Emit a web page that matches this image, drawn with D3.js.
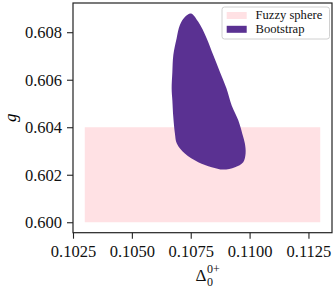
<!DOCTYPE html>
<html>
<head>
<meta charset="utf-8">
<script src="https://cdn.jsdelivr.net/npm/d3@7"></script>
<style>
  body { margin: 0; background: #fff; }
  svg { display: block; }
  text { font-family: "Liberation Serif", "DejaVu Serif", serif; }
</style>
</head>
<body>
<script>
// Fuzzy sphere estimate (rectangle)
var fuzzyX = [0.103, 0.113];
var fuzzyY = [0.600, 0.604];

// Bootstrap island outline (Delta, g)
var bootDelta = [0.10751, 0.10782, 0.10818, 0.10846, 0.10874, 0.10902, 0.10924, 0.10952,
                 0.10969, 0.10980, 0.10983, 0.10973, 0.10938, 0.10888, 0.10839, 0.10782,
                 0.10725, 0.10691, 0.10683, 0.10676, 0.10672, 0.10669, 0.10672, 0.10676,
                 0.10690, 0.10704, 0.10725];
var bootG = [0.60879, 0.60844, 0.60774, 0.60703, 0.60633, 0.60563, 0.60492, 0.60429,
             0.60373, 0.60331, 0.60289, 0.60253, 0.60232, 0.60222, 0.60232, 0.60253,
             0.60289, 0.60331, 0.60373, 0.60443, 0.60513, 0.60563, 0.60633, 0.60703,
             0.60774, 0.60830, 0.60864];

var xTicks = [0.1025, 0.1050, 0.1075, 0.1100, 0.1125];
var yTicks = [0.600, 0.602, 0.604, 0.606, 0.608];
var legendLabels = ["Fuzzy sphere", "Bootstrap"];
var colours = ["#ffe1e4", "#5a3192"];

var width = 336, height = 288;
var margin = { top: 3, right: 4, bottom: 55.3, left: 73 };

var svg = d3.select("body").append("svg")
    .attr("width", width)
    .attr("height", height);

var x = d3.scaleLinear().domain([0.1025, 0.1135]).range([margin.left, width - margin.right]);
var y = d3.scaleLinear().domain([0.59956, 0.60923]).range([height - margin.bottom, margin.top]);

// Fuzzy sphere box
svg.append("rect")
    .attr("x", x(fuzzyX[0]))
    .attr("y", y(fuzzyY[1]))
    .attr("width", x(fuzzyX[1]) - x(fuzzyX[0]))
    .attr("height", y(fuzzyY[0]) - y(fuzzyY[1]))
    .attr("fill", colours[0]);

// Bootstrap island
var pts = bootDelta.map(function(d, i) { return [d, bootG[i]]; });
var line = d3.line()
    .x(function(d) { return x(d[0]); })
    .y(function(d) { return y(d[1]); })
    .curve(d3.curveCatmullRomClosed.alpha(0.5));

svg.append("path")
    .attr("d", line(pts))
    .attr("fill", colours[1]);

// Axes
var xAxis = svg.append("g")
    .attr("transform", "translate(0," + (height - margin.bottom) + ")")
    .call(d3.axisBottom(x).tickValues(xTicks).tickFormat(d3.format(".4f"))
        .tickSize(6).tickPadding(7).tickSizeOuter(0));

var yAxis = svg.append("g")
    .attr("transform", "translate(" + margin.left + ",0)")
    .call(d3.axisLeft(y).tickValues(yTicks).tickFormat(d3.format(".3f"))
        .tickSize(6).tickPadding(5).tickSizeOuter(0));

[xAxis, yAxis].forEach(function(a) {
    a.select(".domain").remove();
    a.selectAll("line").attr("stroke", "#222").attr("stroke-width", 1.1);
    a.selectAll("text")
        .attr("fill", "#111")
        .style("font-family", "'Liberation Serif', serif")
        .style("font-size", "16.5px");
});

// Frame (all four spines)
svg.append("rect")
    .attr("x", margin.left)
    .attr("y", margin.top)
    .attr("width", width - margin.left - margin.right)
    .attr("height", height - margin.top - margin.bottom)
    .attr("fill", "none")
    .attr("stroke", "#222")
    .attr("stroke-width", 1.2);

// Axis labels
svg.append("text")
    .attr("transform", "translate(16," + ((margin.top + height - margin.bottom) / 2) + ") rotate(-90)")
    .attr("text-anchor", "middle")
    .style("font-size", "17px")
    .style("font-style", "italic")
    .text("g");

var cx = (margin.left + width - margin.right) / 2;
var xl = svg.append("g").attr("fill", "#111");
xl.append("text").attr("x", cx - 7).attr("y", 281).style("font-size", "17px").text("Δ");
xl.append("text").attr("x", cx + 4.5).attr("y", 273).style("font-size", "12px").text("0+");
xl.append("text").attr("x", cx + 4.5).attr("y", 286).style("font-size", "12px").text("0");

// Legend
var lg = svg.append("g");
lg.append("rect")
    .attr("x", 222).attr("y", 7)
    .attr("width", 107.5).attr("height", 32)
    .attr("rx", 2.5)
    .attr("fill", "white").attr("fill-opacity", 0.8)
    .attr("stroke", "#d0d0d0").attr("stroke-width", 1);

legendLabels.forEach(function(name, i) {
    lg.append("rect")
        .attr("x", 226.7).attr("y", 12 + i * 13.8)
        .attr("width", 20).attr("height", 7)
        .attr("fill", colours[i]);
    lg.append("text")
        .attr("x", 255.5).attr("y", 19.3 + i * 13.6)
        .style("font-size", "12.6px")
        .attr("fill", "#111")
        .text(name);
});
</script>
</body>
</html>
